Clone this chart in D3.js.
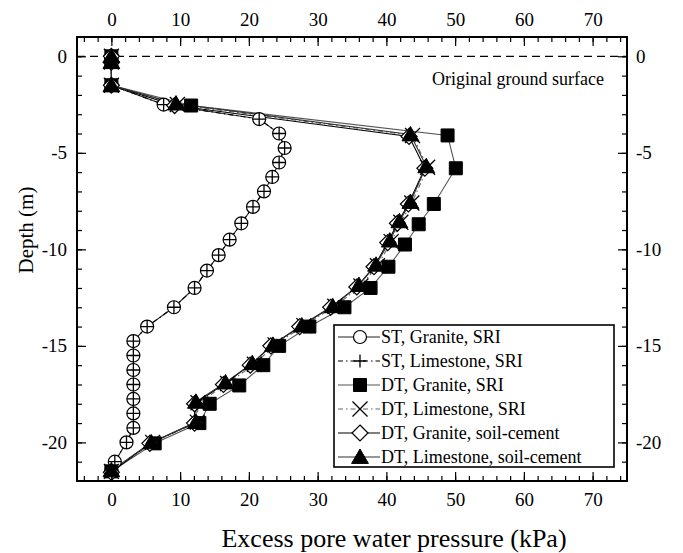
<!DOCTYPE html>
<html>
<head>
<meta charset="utf-8">
<script src="https://cdn.jsdelivr.net/npm/d3@7"></script>
<style>
  html, body { margin: 0; padding: 0; background: #fff; }
  svg { display: block; }
  text { font-family: "Liberation Serif", "Times New Roman", serif; fill: #000; }
</style>
</head>
<body>
<svg id="chart" width="683" height="553"></svg>
<script>
// Excess pore water pressure (kPa) against depth (m)
const xTicks = [0, 10, 20, 30, 40, 50, 60, 70];
const yTicks = [0, -5, -10, -15, -20];

// ST (static) cases
const stGraniteDepth = [0, -0.3, -1.5, -2.5, -3.25, -4, -4.75, -5.5, -6.25, -7, -7.8, -8.65, -9.5, -10.3, -11.1, -12, -13, -14, -14.75, -15.5, -16.25, -17, -17.75, -18.5, -19.25, -20, -21, -21.5];
const stGraniteSRI = [0, 0, 0, 7.6, 21.5, 24.4, 25.2, 24.4, 23.4, 22.2, 20.6, 18.9, 17.2, 15.6, 13.9, 12.1, 9.1, 5.2, 3.2, 3.2, 3.2, 3.2, 3.2, 3.2, 3.2, 2.2, 0.5, 0];
const stLimestoneDepth = [0, -0.3, -1.5, -2.5, -3.25, -4, -4.75, -5.5, -6.25, -7, -7.8, -8.65, -9.5, -10.3, -11.1, -12, -13, -14, -14.75, -15.5, -16.25, -17, -17.75, -18.5, -19.25, -20, -21, -21.5];
const stLimestoneSRI = [0, 0, 0, 7.6, 21.5, 24.4, 25.2, 24.4, 23.4, 22.2, 20.6, 18.9, 17.2, 15.6, 13.9, 12.1, 9.1, 5.2, 3.2, 3.2, 3.2, 3.2, 3.2, 3.2, 3.2, 2.2, 0.5, 0];

// DT (dynamic) cases
const dtGraniteDepth = [0, -0.3, -1.5, -2.55, -4.1, -5.8, -7.65, -8.7, -9.75, -10.9, -12.0, -13.0, -14.0, -15.0, -16.0, -17.05, -18.0, -19.0, -20.05, -21.5];
const dtGraniteSRI = [0, 0, 0, 11.6, 48.9, 50.1, 46.9, 44.7, 42.7, 40.3, 37.7, 33.9, 28.8, 24.4, 22.1, 18.6, 14.3, 12.8, 6.3, 0];
const dtLimestoneSRIDepth = [0, -0.3, -1.5, -2.5, -4.1, -5.75, -7.6, -8.6, -9.6, -10.85, -11.9, -12.95, -13.95, -14.95, -15.95, -16.95, -17.95, -18.95, -20.0, -21.5];
const dtLimestoneSRI = [0, 0, 0, 9.6, 43.8, 46.0, 43.7, 42.1, 40.7, 38.7, 36.3, 32.5, 28.0, 23.8, 20.8, 16.9, 12.6, 12.5, 6.0, 0];
const dtGraniteCementDepth = [0, -0.3, -1.5, -2.55, -4.15, -5.8, -7.65, -8.65, -9.65, -10.9, -11.95, -13.0, -14.0, -15.0, -16.0, -17.0, -18.0, -19.0, -20.05, -21.55];
const dtGraniteCement = [0, 0, 0, 9.2, 43.3, 45.6, 43.2, 41.6, 40.2, 38.2, 35.7, 31.9, 27.4, 23.2, 20.2, 16.3, 12.1, 12.1, 5.6, 0];
const dtLimestoneCementDepth = [0, -0.3, -1.5, -2.45, -4.05, -5.7, -7.55, -8.55, -9.55, -10.8, -11.85, -12.95, -13.95, -14.95, -15.9, -16.9, -17.9, -18.95, -20.0, -21.45];
const dtLimestoneCement = [0, 0, 0, 9.4, 43.5, 45.8, 43.5, 41.9, 40.5, 38.5, 36.0, 32.2, 27.7, 23.5, 20.5, 16.6, 12.3, 12.3, 5.8, 0];

const seriesNames = ["ST, Granite, SRI", "ST, Limestone, SRI", "DT, Granite, SRI", "DT, Limestone, SRI", "DT, Granite, soil-cement", "DT, Limestone, soil-cement"];

const svg = d3.select("#chart");
const x = d3.scaleLinear().domain([-5, 75]).range([77, 627]);
const y = d3.scaleLinear().domain([1, -22]).range([37, 481]);

// marker shapes, drawn around (0,0)
const shapes = {
  circle: s => `M${-s},0A${s},${s} 0 1,0 ${s},0A${s},${s} 0 1,0 ${-s},0Z`,
  plus: s => `M${-s},0H${s}M0,${-s}V${s}`,
  square: s => `M${-s},${-s}H${s}V${s}H${-s}Z`,
  times: s => `M${-s},${-s}L${s},${s}M${-s},${s}L${s},${-s}`,
  diamond: s => `M0,${-s}L${s},0L0,${s}L${-s},0Z`,
  triangle: s => `M0,${-s}L${s * 1.05},${s * 0.8}L${-s * 1.05},${s * 0.8}Z`
};

const series = [
  { name: seriesNames[0], xs: stGraniteSRI, ys: stGraniteDepth, line: "#222", dash: null, shape: "circle", size: 6.5, fill: "#fff", stroke: "#000", sw: 1.2 },
  { name: seriesNames[1], xs: stLimestoneSRI, ys: stLimestoneDepth, line: "#000", dash: "5,3,1.5,3", shape: "plus", size: 6.5, fill: "none", stroke: "#000", sw: 1.3 },
  { name: seriesNames[2], xs: dtGraniteSRI, ys: dtGraniteDepth, line: "#555", dash: null, shape: "square", size: 6.5, fill: "#000", stroke: "#000", sw: 1 },
  { name: seriesNames[3], xs: dtLimestoneSRI, ys: dtLimestoneSRIDepth, line: "#666", dash: "5,3,1.5,3", shape: "times", size: 7.5, fill: "none", stroke: "#000", sw: 1.3 },
  { name: seriesNames[4], xs: dtGraniteCement, ys: dtGraniteCementDepth, line: "#000", dash: null, shape: "diamond", size: 8, fill: "#fff", stroke: "#000", sw: 1.2 },
  { name: seriesNames[5], xs: dtLimestoneCement, ys: dtLimestoneCementDepth, line: "#333", dash: null, shape: "triangle", size: 8, fill: "#000", stroke: "#000", sw: 1 }
];

// original ground surface
svg.append("line")
  .attr("x1", x(-5)).attr("x2", x(75)).attr("y1", y(0)).attr("y2", y(0))
  .attr("stroke", "#000").attr("stroke-width", 1.2).attr("stroke-dasharray", "8,5");
svg.append("text").attr("x", 432).attr("y", 85).attr("font-size", 18).text("Original ground surface");

// lines
const lineGen = d3.line().x(d => x(d[0])).y(d => y(d[1]));
series.forEach(s => {
  const pts = s.xs.map((v, i) => [v, s.ys[i]]);
  svg.append("path").attr("d", lineGen(pts)).attr("fill", "none")
    .attr("stroke", s.line).attr("stroke-width", 1.1)
    .attr("stroke-dasharray", s.dash);
});

// markers: draw order keeps the overlaid symbols readable
const markerOrder = [0, 1, 2, 3, 4, 5];
markerOrder.forEach(k => {
  const s = series[k];
  svg.append("g").selectAll("path").data(s.xs.map((v, i) => [v, s.ys[i]])).join("path")
    .attr("transform", d => `translate(${x(d[0])},${y(d[1])})`)
    .attr("d", shapes[s.shape](s.size))
    .attr("fill", s.fill).attr("stroke", s.stroke).attr("stroke-width", s.sw);
});

// axes with inward ticks on all four sides
const fmt = d => String(d);
const xMinor = d3.range(-4, 75, 2);
const yMinor = d3.range(0, -22, -1);
function styleAxis(g) {
  g.select(".domain").remove();
  g.selectAll("line").attr("stroke", "#000").attr("stroke-width", 1.2);
  g.selectAll("text").attr("font-size", 19).attr("font-family", "Liberation Serif");
}
const H = 481, T = 37, L = 77, R = 627;
svg.append("g").attr("transform", `translate(0,${H})`)
  .call(d3.axisBottom(x).tickValues(xMinor).tickSize(-5).tickFormat("")).call(styleAxis);
svg.append("g").attr("transform", `translate(0,${H})`)
  .call(d3.axisBottom(x).tickValues(xTicks).tickSize(-9).tickPadding(12).tickFormat(fmt)).call(styleAxis);
svg.append("g").attr("transform", `translate(0,${T})`)
  .call(d3.axisTop(x).tickValues(xMinor).tickSize(-5).tickFormat("")).call(styleAxis);
svg.append("g").attr("transform", `translate(0,${T})`)
  .call(d3.axisTop(x).tickValues(xTicks).tickSize(-9).tickPadding(11).tickFormat(fmt)).call(styleAxis);
svg.append("g").attr("transform", `translate(${L},0)`)
  .call(d3.axisLeft(y).tickValues(yMinor).tickSize(-5).tickFormat("")).call(styleAxis);
svg.append("g").attr("transform", `translate(${L},0)`)
  .call(d3.axisLeft(y).tickValues(yTicks).tickSize(-9).tickPadding(10).tickFormat(fmt)).call(styleAxis);
svg.append("g").attr("transform", `translate(${R},0)`)
  .call(d3.axisRight(y).tickValues(yMinor).tickSize(-5).tickFormat("")).call(styleAxis);
svg.append("g").attr("transform", `translate(${R},0)`)
  .call(d3.axisRight(y).tickValues(yTicks).tickSize(-9).tickPadding(9).tickFormat(fmt)).call(styleAxis);

// frame
svg.append("rect").attr("x", L).attr("y", T).attr("width", R - L).attr("height", H - T)
  .attr("fill", "none").attr("stroke", "#000").attr("stroke-width", 2);

// axis titles
svg.append("text").attr("x", 394).attr("y", 547).attr("text-anchor", "middle")
  .attr("font-size", 26).text("Excess pore water pressure (kPa)");
svg.append("text").attr("transform", "translate(33,230) rotate(-90)").attr("text-anchor", "middle")
  .attr("font-size", 21).text("Depth (m)");

// legend
const lg = svg.append("g");
lg.append("rect").attr("x", 334).attr("y", 325).attr("width", 280).attr("height", 142)
  .attr("fill", "#fff").attr("stroke", "#000").attr("stroke-width", 1.6);
series.forEach((s, i) => {
  const cy = 337 + i * 24;
  lg.append("line").attr("x1", 338).attr("x2", 380).attr("y1", cy).attr("y2", cy)
    .attr("stroke", s.line).attr("stroke-width", 1.2).attr("stroke-dasharray", s.dash);
  lg.append("path").attr("transform", `translate(360,${cy})`).attr("d", shapes[s.shape](s.size))
    .attr("fill", s.fill).attr("stroke", s.stroke).attr("stroke-width", s.sw);
  lg.append("text").attr("x", 381).attr("y", cy + 6).attr("font-size", 18).text(s.name);
});
</script>
</body>
</html>
